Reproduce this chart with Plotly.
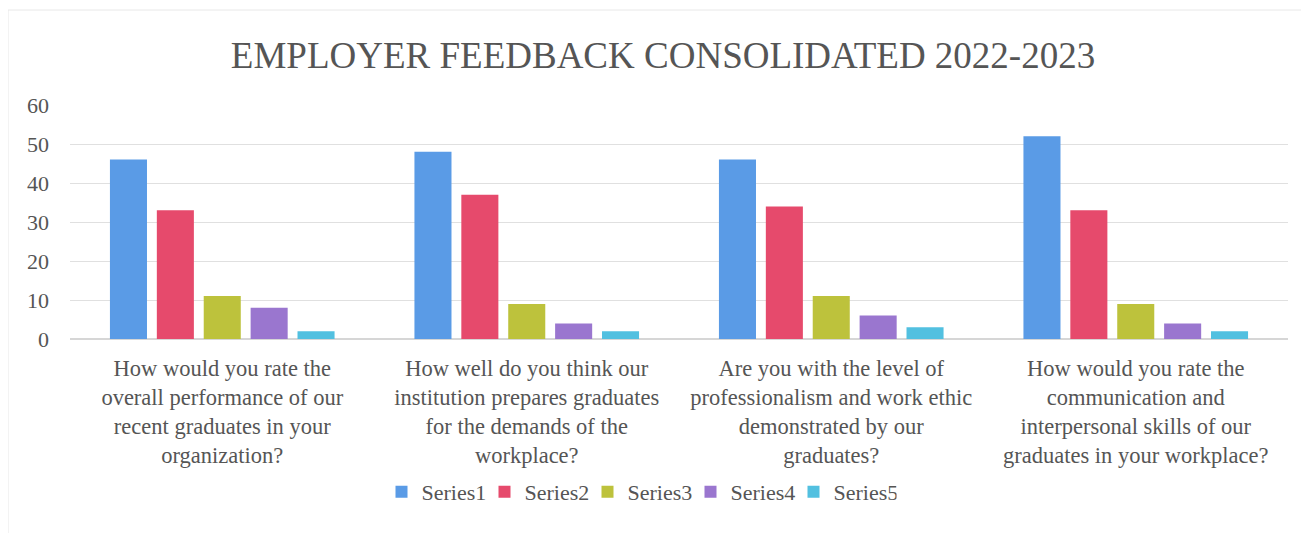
import plotly.graph_objects as go

categories = [
    "How would you rate the<br>overall performance of our<br>recent graduates in your<br>organization?",
    "How well do you think our<br>institution prepares graduates<br>for the demands of the<br>workplace?",
    "Are you with the level of<br>professionalism and work ethic<br>demonstrated by our<br>graduates?",
    "How would you rate the<br>communication and<br>interpersonal skills of our<br>graduates in your workplace?",
]
series_names = ["Series1", "Series2", "Series3", "Series4", "Series5"]
series1 = [46, 48, 46, 52]
series2 = [33, 37, 34, 33]
series3 = [11, 9, 11, 9]
series4 = [8, 4, 6, 4]
series5 = [2, 2, 3, 2]
colors = ["#5a9be6", "#e64a6c", "#bdc23c", "#9a76cf", "#52c0e0"]

fig = go.Figure()
for name, vals, c in zip(series_names, [series1, series2, series3, series4, series5], colors):
    fig.add_trace(go.Bar(x=categories, y=vals, name=name, marker_color=c, marker_line_width=0))

font = "Liberation Serif, Times New Roman, serif"
W, H = 1301, 527
L, R, T, B = 62, 21, 97, 196
ph = H - T - B
pw = W - L - R
fig.update_layout(
    width=W, height=H,
    paper_bgcolor="white", plot_bgcolor="white",
    margin=dict(l=L, r=R, t=T, b=B, autoexpand=False),
    barmode="group", bargap=0.23, bargroupgap=0.21,
    title=dict(text="EMPLOYER FEEDBACK CONSOLIDATED 2022-2023", x=655 / W, xanchor="center",
               xref="container", y=1 - 47 / H, yanchor="middle",
               font=dict(family=font, size=37, color="#555555")),
    font=dict(family=font, color="#555555"),
    legend=dict(orientation="h", x=0.5 - 40 / pw, xanchor="center", y=-153 / ph, yanchor="middle",
                font=dict(family=font, size=22, color="#555555"),
                traceorder="normal", itemwidth=30, entrywidth=58, entrywidthmode="pixels"),
    showlegend=True,
)
fig.update_yaxes(range=[0, 60], dtick=10, showgrid=True, gridcolor="#e0e0e0", gridwidth=1,
                 zeroline=True, zerolinecolor="#d6d6d6", showline=False, automargin=False,
                 tickfont=dict(family=font, size=22, color="#555555"), ticks="", ticklabelstandoff=20)
fig.update_xaxes(showline=False, tickfont=dict(family=font, size=22.5, color="#555555"), ticks="",
                 tickangle=0, automargin=False, ticklabelstandoff=13)
fig.add_shape(type="line", xref="paper", yref="paper", x0=-L / pw, x1=-L / pw,
              y0=-(B - 2) / ph, y1=1 + (T - 2) / ph, line=dict(color="#e8e8e8", width=1))
fig.add_shape(type="line", xref="paper", yref="paper", x0=-L / pw, x1=1 + (R - 2) / pw,
              y0=1 + (T - 2) / ph, y1=1 + (T - 2) / ph, line=dict(color="#e8e8e8", width=1))
fig.write_html("out.html")
